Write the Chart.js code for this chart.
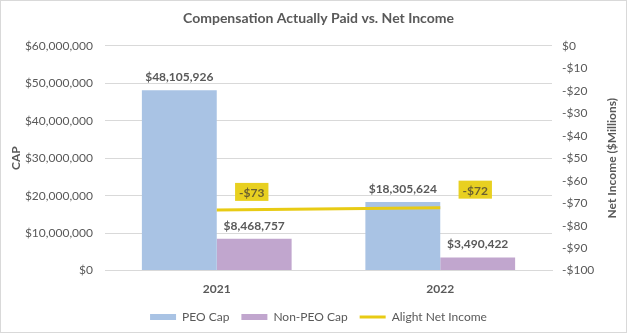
<!DOCTYPE html>
<html>
<head>
<meta charset="utf-8">
<script src="https://cdn.jsdelivr.net/npm/chart.js@4.4.0/dist/chart.umd.min.js"></script>
<style>
  html, body { margin: 0; padding: 0; background: #fff; }
  #wrap { position: relative; width: 628px; height: 335px; }
</style>
</head>
<body>
<div id="wrap"><canvas id="capChart"></canvas></div>
<script>
// data
const years = ['2021', '2022'];
const peoCap = [48105926, 18305624];
const nonPeoCap = [8468757, 3490422];
const netIncome = [-73, -72]; // $ millions

const fmtMoney = v => (v < 0 ? '-$' : '$') + Math.abs(v).toLocaleString('en-US');
const FONT = 'Lato, "Open Sans", sans-serif';
const GREY = '#595959';

// 数据标签 + 边框 + 右轴标题
const labelPlugin = {
    id: 'labels',
    afterDatasetsDraw(chart) {
        const ctx = chart.ctx;
        ctx.save();
        ctx.font = 'bold 12px ' + FONT;
        ctx.textAlign = 'center';
        [0, 1].forEach(di => {
            chart.getDatasetMeta(di).data.forEach((bar, i) => {
                const v = chart.data.datasets[di].data[i];
                ctx.fillStyle = GREY;
                ctx.textBaseline = 'bottom';
                ctx.fillText(fmtMoney(v), bar.x, bar.y - 7);
            });
        });
        // line labels in yellow boxes
        chart.getDatasetMeta(2).data.forEach((pt, i) => {
            const txt = fmtMoney(chart.data.datasets[2].data[i]);
            const cx = pt.x + 35, cy = pt.y - 18;
            const w = ctx.measureText(txt).width + 8, h = 18;
            ctx.fillStyle = '#E8D020';
            ctx.fillRect(cx - w / 2, cy - h / 2, w, h);
            ctx.fillStyle = '#6b6030';
            ctx.textBaseline = 'middle';
            ctx.fillText(txt, cx, cy + 1);
        });
        ctx.restore();
    },
    afterDraw(chart) {
        const ctx = chart.ctx;
        ctx.save();
        ctx.font = 'bold 12px ' + FONT;
        ctx.fillStyle = GREY;
        ctx.textAlign = 'center';
        ctx.textBaseline = 'middle';
        ctx.translate(612, (chart.chartArea.top + chart.chartArea.bottom) / 2);
        ctx.rotate(-Math.PI / 2);
        ctx.fillText('Net Income ($Millions)', 0, 0);
        ctx.restore();
        ctx.save();
        ctx.strokeStyle = '#D9D9D9';
        ctx.lineWidth = 1;
        ctx.strokeRect(0.5, 0.5, 626, 332);
        ctx.restore();
    }
};

new Chart(document.getElementById('capChart'), {
    data: {
        labels: years,
        datasets: [{
            type: 'bar',
            label: 'PEO Cap',
            data: peoCap,
            backgroundColor: '#A9C3E4',
            yAxisID: 'y',
            order: 1
        }, {
            type: 'bar',
            label: 'Non-PEO Cap',
            data: nonPeoCap,
            backgroundColor: '#C1A6CE',
            yAxisID: 'y',
            order: 1
        }, {
            type: 'line',
            label: 'Alight Net Income',
            data: netIncome,
            yAxisID: 'y1',
            borderColor: '#E8CB14',
            backgroundColor: '#E8CB14',
            borderWidth: 3,
            pointRadius: 0,
            order: 0
        }]
    },
    options: {
        responsive: true,
        maintainAspectRatio: false,
        animation: false,
        layout: { padding: { top: 8, left: 9, right: 0, bottom: 2 } },
        datasets: {
            bar: { categoryPercentage: 0.67, barPercentage: 1.0 }
        },
        plugins: {
            title: {
                display: true,
                text: 'Compensation Actually Paid vs. Net Income',
                color: GREY,
                font: { family: FONT, size: 14, weight: 'bold' },
                padding: { top: 2, bottom: 19 }
            },
            legend: {
                position: 'bottom',
                labels: {
                    color: GREY,
                    font: { family: FONT, size: 12 },
                    usePointStyle: true,
                    pointStyleWidth: 26,
                    boxHeight: 6,
                    padding: 12,
                    generateLabels(chart) {
                        return chart.data.datasets.map((d, i) => ({
                            text: d.label,
                            fillStyle: d.backgroundColor,
                            strokeStyle: d.borderColor || d.backgroundColor,
                            lineWidth: d.type === 'line' ? 3 : 0,
                            pointStyle: d.type === 'line' ? 'line' : 'rect',
                            fontColor: GREY,
                            datasetIndex: i
                        }));
                    }
                }
            },
            tooltip: { enabled: false }
        },
        scales: {
            x: {
                grid: { display: false },
                border: { display: true, color: '#D9D9D9' },
                ticks: { color: GREY, font: { family: FONT, size: 12, weight: 'bold' }, padding: 3 }
            },
            y: {
                position: 'left',
                min: 0,
                max: 60000000,
                ticks: {
                    stepSize: 10000000,
                    color: GREY,
                    font: { family: FONT, size: 12 },
                    padding: 12,
                    callback: v => fmtMoney(v)
                },
                grid: { color: '#D9D9D9', drawTicks: false },
                border: { display: false },
                title: {
                    display: true,
                    text: 'CAP',
                    color: GREY,
                    font: { family: FONT, size: 12, weight: 'bold' },
                    padding: 0
                },
                afterFit: s => { s.width = 96; }
            },
            y1: {
                position: 'right',
                min: -100,
                max: 0,
                ticks: {
                    stepSize: 10,
                    color: GREY,
                    font: { family: FONT, size: 12 },
                    padding: 10,
                    callback: v => fmtMoney(v)
                },
                grid: { display: false, drawTicks: false },
                border: { display: false },
                afterFit: s => { s.width = 76; }
            }
        }
    },
    plugins: [labelPlugin]
});
</script>
</body>
</html>
